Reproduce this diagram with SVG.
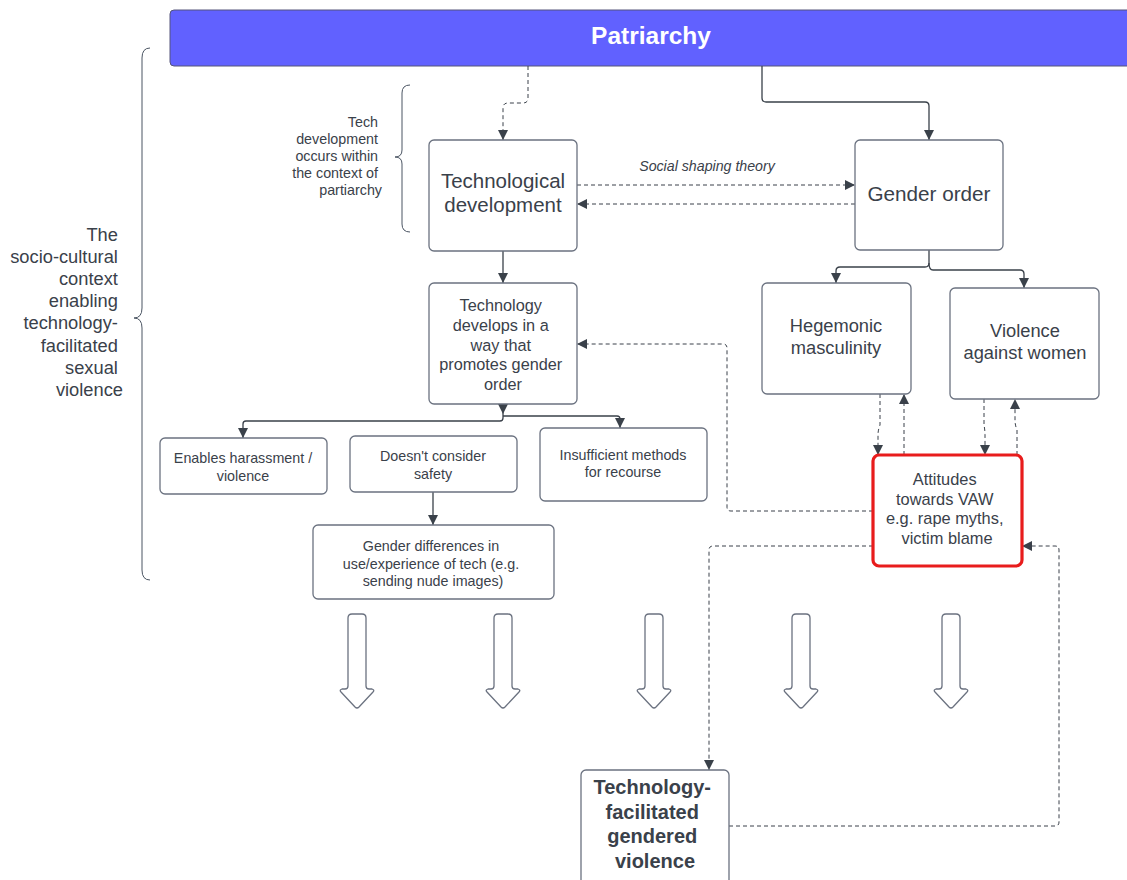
<svg xmlns="http://www.w3.org/2000/svg" width="1127" height="880" viewBox="0 0 1127 880">
  <style>
    .box { fill: #ffffff; stroke: #6b7280; stroke-width: 1.3; }
    .hot { fill: #ffffff; stroke: #e81c1c; stroke-width: 3.2; }
    .t { font-family: "Liberation Sans", Arial, sans-serif; fill: #3a414a; text-anchor: middle; }
    .side { font-family: "Liberation Sans", Arial, sans-serif; fill: #3a414a; text-anchor: end; }
    .solid { fill: none; stroke: #3a414a; stroke-width: 1.3; }
    .dash { fill: none; stroke: #3a414a; stroke-width: 1; stroke-dasharray: 4 3; }
    .brace { fill: none; stroke: #4b5563; stroke-width: 1; }
    .big { fill: #ffffff; stroke: #6b7280; stroke-width: 1.3; stroke-linejoin: round; }
  </style>
  <defs>
    <marker id="ah" viewBox="0 0 10 10" refX="10" refY="5" markerWidth="10" markerHeight="10" markerUnits="userSpaceOnUse" orient="auto">
      <path d="M0,0 L10,5 L0,10 Z" fill="#3a414a"/>
    </marker>
    <path id="blk" d="M-9,4 Q-9,0 -5,0 L5,0 Q9,0 9,4 L9,72 Q9,75 12,75 L15,75 Q18,76 16,78 L2,93 Q0,95 -2,93 L-16,78 Q-18,76 -15,75 L-12,75 Q-9,75 -9,72 Z"/>
  </defs>

  <rect width="1127" height="880" fill="#ffffff"/>

  <!-- top band -->
  <g id="patriarchy">
    <rect x="170" y="10" width="980" height="56" rx="4" fill="#6161ff" stroke="#55557a" stroke-width="1"/>
    <text x="651" y="44" font-family="Liberation Sans, Arial, sans-serif" font-size="24.5" font-weight="bold" fill="#ffffff" text-anchor="middle">Patriarchy</text>
  </g>

  <!-- braces and side notes -->
  <g id="context-brace">
    <path class="brace" d="M150,48 Q142,48 142,58 L142,308 Q142,318 134,318 Q142,318 142,328 L142,570 Q142,580 150,580"/>
    <text class="side" font-size="18.3">
      <tspan x="123" y="241">The</tspan>
      <tspan x="123" y="263">socio-cultural</tspan>
      <tspan x="123" y="285">context</tspan>
      <tspan x="123" y="307">enabling</tspan>
      <tspan x="123" y="329">technology-</tspan>
      <tspan x="123" y="352">facilitated</tspan>
      <tspan x="123" y="374">sexual</tspan>
      <tspan x="123" y="396">violence</tspan>
    </text>
  </g>
  <g id="tech-brace">
    <path class="brace" d="M410,85 Q402,85 402,93 L402,150 Q402,157 395,157 Q402,157 402,164 L402,224 Q402,232 410,232"/>
    <text class="side" font-size="14.3">
      <tspan x="382" y="127">Tech</tspan>
      <tspan x="382" y="144">development</tspan>
      <tspan x="382" y="161">occurs within</tspan>
      <tspan x="382" y="178">the context of</tspan>
      <tspan x="382" y="195">partiarchy</tspan>
    </text>
  </g>

  <!-- connectors -->
  <g id="connectors">
    <path class="dash" d="M528,66 L528,98 Q528,103 523,103 L508,103 Q503,103 503,108 L503,140" marker-end="url(#ah)"/>
    <path class="solid" d="M762,66 L762,98 Q762,102 766,102 L925,102 Q929,102 929,106 L929,140" marker-end="url(#ah)"/>
    <path class="dash" d="M577,185 L855,185" marker-end="url(#ah)"/>
    <path class="dash" d="M855,204 L577,204" marker-end="url(#ah)"/>
    <text class="t" x="707" y="171" font-size="14.2" font-style="italic">Social shaping theory</text>
    <path class="solid" d="M503,251 L503,283" marker-end="url(#ah)"/>
    <path class="solid" d="M929,250 L929,263 Q929,267 925,267 L840,267 Q836,267 836,271 L836,283" marker-end="url(#ah)"/>
    <path class="solid" d="M929,263 Q929,270 933,270 L1020,270 Q1024,270 1024,274 L1024,288" marker-end="url(#ah)"/>
    <path class="solid" d="M503,404 L503,414" marker-end="url(#ah)"/>
    <path class="solid" d="M503,414 L503,418 Q503,421 500,421 L246,421 Q243,421 243,424 L243,438" marker-end="url(#ah)"/>
    <path class="solid" d="M503,416 L617,416 Q620,416 620,419 L620,428" marker-end="url(#ah)"/>
    <path class="solid" d="M433,492 L433,525" marker-end="url(#ah)"/>
    <path class="dash" d="M880,394 L880,425 Q878,430 878,435 L878,455" marker-end="url(#ah)"/>
    <path class="dash" d="M904,455 L904,425 Q904,420 904,415 L904,394" marker-end="url(#ah)"/>
    <path class="dash" d="M984,399 L984,425 Q985,430 985,435 L985,455" marker-end="url(#ah)"/>
    <path class="dash" d="M1017,455 L1017,430 Q1015,425 1015,420 L1015,399" marker-end="url(#ah)"/>
    <path class="dash" d="M873,511 L731,511 Q727,511 727,507 L727,348 Q727,344 723,344 L577,344" marker-end="url(#ah)"/>
    <path class="dash" d="M873,546 L713,546 Q709,546 709,550 L709,770" marker-end="url(#ah)"/>
    <path class="dash" d="M729,826 L1055,826 Q1059,826 1059,822 L1059,550 Q1059,546 1055,546 L1022,546" marker-end="url(#ah)"/>
  </g>

  <g id="tech-development">
    <rect class="box" x="429" y="140" width="148" height="111" rx="5"/>
    <text class="t" font-size="20.5"><tspan x="503" y="188">Technological</tspan><tspan x="503" y="212">development</tspan></text>
  </g>
  <g id="gender-order">
    <rect class="box" x="855" y="140" width="148" height="110" rx="5"/>
    <text class="t" x="929" y="201" font-size="20.7">Gender order</text>
  </g>
  <g id="tech-promotes">
    <rect class="box" x="429" y="283" width="148" height="121" rx="5"/>
    <text class="t" font-size="16.3">
      <tspan x="503" y="311">Technology</tspan>
      <tspan x="503" y="331">develops in a</tspan>
      <tspan x="503" y="351">way that</tspan>
      <tspan x="503" y="370">promotes gender</tspan>
      <tspan x="503" y="390">order</tspan>
    </text>
  </g>
  <g id="hegemonic">
    <rect class="box" x="762" y="283" width="149" height="111" rx="5"/>
    <text class="t" font-size="18.3"><tspan x="836" y="332">Hegemonic</tspan><tspan x="836" y="354">masculinity</tspan></text>
  </g>
  <g id="vaw">
    <rect class="box" x="950" y="288" width="149" height="111" rx="5"/>
    <text class="t" font-size="18.3"><tspan x="1025" y="337">Violence</tspan><tspan x="1025" y="359">against women</tspan></text>
  </g>
  <g id="attitudes">
    <rect class="hot" x="873" y="455" width="149" height="111" rx="6"/>
    <text class="t" font-size="16.4">
      <tspan x="947" y="485">Attitudes</tspan>
      <tspan x="947" y="505">towards VAW</tspan>
      <tspan x="947" y="524">e.g. rape myths,</tspan>
      <tspan x="947" y="544">victim blame</tspan>
    </text>
  </g>
  <g id="enables">
    <rect class="box" x="160" y="438" width="167" height="56" rx="5"/>
    <text class="t" font-size="14.3"><tspan x="243" y="463">Enables harassment /</tspan><tspan x="243" y="481">violence</tspan></text>
  </g>
  <g id="safety">
    <rect class="box" x="350" y="436" width="167" height="56" rx="5"/>
    <text class="t" font-size="14.3"><tspan x="433" y="461">Doesn't consider</tspan><tspan x="433" y="479">safety</tspan></text>
  </g>
  <g id="recourse">
    <rect class="box" x="540" y="428" width="167" height="73" rx="5"/>
    <text class="t" font-size="14.3"><tspan x="623" y="460">Insufficient methods</tspan><tspan x="623" y="477">for recourse</tspan></text>
  </g>
  <g id="gender-differences">
    <rect class="box" x="313" y="525" width="241" height="74" rx="5"/>
    <text class="t" font-size="14.3">
      <tspan x="433" y="551">Gender differences in</tspan>
      <tspan x="433" y="569">use/experience of tech (e.g.</tspan>
      <tspan x="433" y="586">sending nude images)</tspan>
    </text>
  </g>

  <!-- hollow block arrows -->
  <g id="block-arrows">
    <use href="#blk" class="big" x="357" y="614"/>
    <use href="#blk" class="big" x="503" y="614"/>
    <use href="#blk" class="big" x="654" y="614"/>
    <use href="#blk" class="big" x="801" y="614"/>
    <use href="#blk" class="big" x="951" y="614"/>
  </g>

  <g id="tfgv">
    <rect class="box" x="581" y="770" width="148" height="120" rx="5"/>
    <text class="t" font-size="20" font-weight="bold">
      <tspan x="655" y="794">Technology-</tspan>
      <tspan x="655" y="819">facilitated</tspan>
      <tspan x="655" y="843">gendered</tspan>
      <tspan x="655" y="868">violence</tspan>
    </text>
  </g>
</svg>
